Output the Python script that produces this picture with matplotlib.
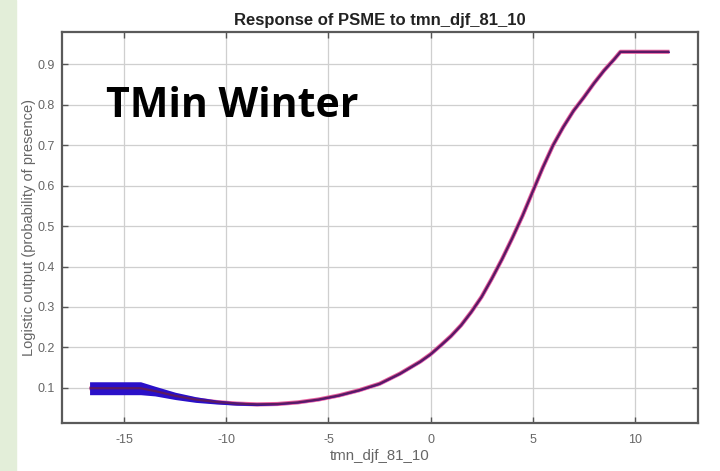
import numpy as np
import matplotlib.pyplot as plt
from matplotlib.patches import Rectangle

# response curve of PSME to winter minimum temperature (mean and spread)
tmn = [-16.7, -14.2, -13.5, -12.5, -11.5, -10.5, -9.5, -8.5, -7.5, -6.5,
       -5.5, -4.5, -3.5, -2.5, -1.5, -1.0, -0.5, 0.0, 0.5, 1.0,
       1.5, 2.0, 2.5, 3.0, 3.5, 4.0, 4.5, 5.0, 5.5, 6.0,
       6.5, 7.0, 7.5, 8.0, 8.5, 9.0, 9.3, 11.7]
resp = [0.099, 0.099, 0.092, 0.080, 0.071, 0.065, 0.061, 0.059, 0.060, 0.064,
        0.071, 0.081, 0.094, 0.110, 0.135, 0.150, 0.165, 0.183, 0.205, 0.228,
        0.255, 0.288, 0.325, 0.370, 0.418, 0.470, 0.525, 0.585, 0.645, 0.700,
        0.745, 0.785, 0.818, 0.853, 0.885, 0.913, 0.931, 0.931]
sd = [0.016, 0.016, 0.012, 0.009, 0.007, 0.005, 0.004, 0.003, 0.002, 0.0015,
      0.0015, 0.0015, 0.0015, 0.0015, 0.0015, 0.0015, 0.0015, 0.0015, 0.0015, 0.0015,
      0.0015, 0.0015, 0.0015, 0.0015, 0.0015, 0.0015, 0.0015, 0.0015, 0.0015, 0.0015,
      0.0015, 0.0015, 0.0015, 0.0015, 0.0015, 0.0015, 0.0015, 0.0015]

xticks = [-15, -10, -5, 0, 5, 10]
yticks = [0.1, 0.2, 0.3, 0.4, 0.5, 0.6, 0.7, 0.8, 0.9]

tmn = np.array(tmn)
resp = np.array(resp)
sd = np.array(sd)

plt.rcParams['font.family'] = ['Liberation Sans', 'DejaVu Sans']

fig = plt.figure(figsize=(7.2, 4.71), dpi=100)
fig.patches.append(Rectangle((0, 0), 16 / 720, 1, transform=fig.transFigure,
                             color='#e3eed9', zorder=0))

ax = fig.add_axes([62 / 720, 48 / 471, 636 / 720, 391 / 471])
ax.plot(tmn, resp, color='#e8609f', lw=3.0, zorder=3, solid_capstyle='butt')
ax.fill_between(tmn, resp - sd, resp + sd, color='#2a10c8', lw=0, zorder=4)
ax.plot(tmn, resp, color='#5c1a62', lw=1.6, zorder=5, solid_capstyle='butt')

ax.set_xlim(-18.05, 13.1)
ax.set_ylim(0.013, 0.98)
ax.set_xticks(xticks)
ax.set_yticks(yticks)
ax.set_xticklabels([str(t) for t in xticks])
ax.set_yticklabels([f'{t:.1f}' for t in yticks])
ax.grid(True, color='#cfcfcf', lw=0.9)
ax.set_axisbelow(True)
ax.tick_params(direction='in', top=True, right=True, length=4, width=1,
               color='#555555', labelcolor='#666666', labelsize=9)
ax.tick_params(axis='x', pad=8)
ax.tick_params(axis='y', pad=5)
for s in ax.spines.values():
    s.set_color('#5a5a5a')
    s.set_linewidth(1.6)

ax.set_title('Response of PSME to tmn_djf_81_10', fontsize=12,
             fontweight='bold', color='#222222', pad=5)
ax.set_xlabel('tmn_djf_81_10', fontsize=10.8, color='#666666', labelpad=2)
ax.set_ylabel('Logistic output (probability of presence)', fontsize=10.5,
              color='#666666', labelpad=1)

fig.text(106 / 720, 1 - 117 / 471, 'TMin Winter', fontsize=29.5,
         fontweight='bold', family='Open Sans', color='black', va='baseline')

fig.savefig('out.png', dpi=100)
